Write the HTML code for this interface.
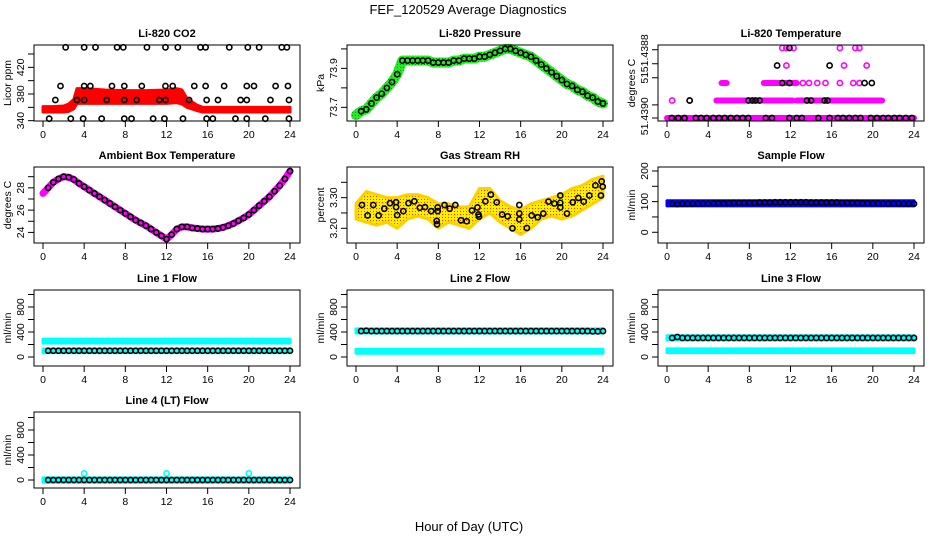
<!DOCTYPE html>
<html><head><meta charset="utf-8"><style>
html,body{margin:0;padding:0;background:#fff;}
svg{display:block;font-family:"Liberation Sans",Arial,sans-serif;}
.tt{font-weight:bold;font-size:11px;}
.tk{font-size:10.5px;}
</style></head><body>
<svg id="chart" width="936" height="540" viewBox="0 0 936 540" xmlns="http://www.w3.org/2000/svg">
<defs>
<pattern id="rhpat" width="3" height="3" patternUnits="userSpaceOnUse"><rect width="3" height="3" fill="#ffee00"/><rect x="1" y="1" width="1" height="1" fill="#ee3300"/></pattern>
<pattern id="grpat" width="3" height="3" patternUnits="userSpaceOnUse"><rect width="3" height="3" fill="#22ee22"/><rect x="1" y="1" width="1" height="1" fill="#119911"/></pattern>
</defs>
<text x="468" y="14" text-anchor="middle" font-size="13">FEF_120529  Average Diagnostics</text>
<text x="469" y="531" text-anchor="middle" font-size="13">Hour of Day (UTC)</text>
</svg>
<script>
// ---------- data ----------
const xTicks = [0,4,8,12,16,20,24];
const halfHours = [0,0.5,1,1.5,2,2.5,3,3.5,4,4.5,5,5.5,6,6.5,7,7.5,8,8.5,9,9.5,10,10.5,11,11.5,12,12.5,13,13.5,14,14.5,15,15.5,16,16.5,17,17.5,18,18.5,19,19.5,20,20.5,21,21.5,22,22.5,23,23.5,24];

// CO2
const co2BandHours = [0,1,2,2.5,3,3.3,4,6,8,10,12,13,13.5,14,15,15.5,16,20,24];
const co2BandLow  = [353,353,353,354,358,366,366,366,366,366,366,367,365,360,355,353,353,353,353];
const co2BandHigh = [361,361,362,365,372,388,388,386,385,385,386,388,386,373,363,360,360,360,360];
const co2OutHours = [2.2,4.0,5.1,7.2,7.8,10.1,11.9,13.1,15.3,15.8,18.1,19.9,21.0,23.2,23.7,
 1.7,4.0,4.6,6.7,7.9,9.6,11.9,12.6,14.7,15.8,17.6,19.8,20.5,22.6,23.8,
 1.2,3.3,4.0,6.2,7.9,9.1,11.3,11.9,14.2,15.9,17.0,19.2,19.8,22.1,23.9,
 0.6,2.7,3.9,5.7,7.9,8.6,10.7,11.8,13.6,15.9,16.5,18.7,19.8,21.6,23.9];
const co2OutValues = [450,450,450,450,450,450,450,450,450,450,450,450,450,450,450,
 392,392,392,392,392,392,392,392,392,392,392,392,392,392,392,
 371,371,371,371,371,371,371,371,371,371,371,371,371,371,371,
 343,343,343,343,343,343,343,343,343,343,343,343,343,343,343];

// Pressure
const pressValues = [73.66,73.68,73.69,73.72,73.75,73.77,73.80,73.83,73.87,73.94,73.94,73.94,73.94,73.94,73.94,73.93,73.93,73.93,73.93,73.94,73.94,73.95,73.95,73.95,73.96,73.96,73.97,73.98,73.99,74.0,74.0,73.99,73.98,73.97,73.96,73.94,73.92,73.90,73.88,73.86,73.84,73.82,73.81,73.79,73.78,73.76,73.75,73.73,73.72];

// Li-820 temperature (level index)
const tempSegStart = [0,4.8,12.6,9.4,5.3];
const tempSegEnd   = [24,12.2,20.9,12.6,5.8];
const tempSegLevel = [0,1,1,2,2];
const tempMagHours  = [0.5,2.2,13.2,13.8,14.6,15.4,16.8,18.1,18.7,11.6,17.2,19.4,11.2,11.6,12.3,16.8,18.3,18.7];
const tempMagLevels = [1,1,2,2,2,2,2,2,2,3,3,3,4,4,4,4,4,4];
const tempBlkHours = [0.46,1.1,1.7,2.8,3.3,3.85,4.5,5.05,5.6,6.2,6.8,7.35,7.9,9.6,10.2,11.9,12.6,13.1,14.7,15.8,16.6,17.1,17.7,18.3,18.8,19.8,20.4,21.0,21.5,22.1,22.6,23.2,23.8,
 2.2,7.9,8.3,8.6,9.0,13.6,14.0,15.3,15.6, 11.2,11.9,19.2,19.9, 10.7,15.8, 11.9];
const tempBlkLevels = [0,0,0,0,0,0,0,0,0,0,0,0,0,0,0,0,0,0,0,0,0,0,0,0,0,0,0,0,0,0,0,0,0,
 1,1,1,1,1,1,1,1,1, 2,2,2,2, 3,3, 4];

// Ambient box temperature
const ambValues = [27.5,28.0,28.5,28.8,29.0,28.95,28.75,28.4,28.1,27.8,27.5,27.2,26.9,26.6,26.3,26.0,25.7,25.4,25.1,24.85,24.6,24.3,24.0,23.7,23.4,23.8,24.3,24.5,24.5,24.4,24.35,24.3,24.3,24.3,24.35,24.45,24.6,24.8,25.05,25.3,25.6,26.0,26.4,26.8,27.2,27.7,28.2,28.8,29.5];

// Gas stream RH
const rhCloudHours = [0,1,2,3,4,5,6,7,8,9,10,11,12,13,14,15,16,17,18,19,20,21,22,23,24];
const rhCloudLow  = [3.23,3.22,3.21,3.22,3.20,3.23,3.24,3.23,3.20,3.22,3.21,3.20,3.23,3.25,3.22,3.20,3.18,3.20,3.23,3.24,3.23,3.24,3.26,3.28,3.30];
const rhCloudHigh = [3.28,3.32,3.31,3.30,3.30,3.31,3.31,3.30,3.28,3.28,3.27,3.27,3.33,3.33,3.29,3.27,3.26,3.28,3.29,3.30,3.31,3.33,3.34,3.36,3.37];
const rhPtHours = [0.58,1.13,1.68,2.2,2.75,3.3,3.9,3.9,4.0,4.6,5.1,5.67,6.2,6.7,7.3,7.84,7.87,7.94,7.94,8.6,9.1,9.65,10.2,10.76,11.27,11.8,11.9,11.95,12.57,13.1,13.67,14.2,14.74,15.2,15.87,15.87,15.87,16.6,17.07,17.66,18.2,18.7,19.27,19.85,19.85,19.85,20.5,21.06,21.6,22.13,22.67,23.26,23.8,23.87,23.97];
const rhPtValues = [3.276,3.242,3.276,3.242,3.264,3.282,3.285,3.269,3.243,3.256,3.282,3.288,3.267,3.269,3.256,3.224,3.213,3.256,3.268,3.276,3.264,3.276,3.226,3.223,3.258,3.268,3.245,3.238,3.288,3.310,3.285,3.245,3.239,3.200,3.276,3.248,3.229,3.201,3.242,3.236,3.248,3.287,3.281,3.307,3.283,3.268,3.248,3.285,3.299,3.287,3.307,3.340,3.307,3.353,3.336];

// Flows (black series every half hour from 0.5)
const sampleValues = [93,93,92,93,93,93,94,94,94,95,95,95,95,96,96,96,96,96,97,97,97,98,98,98,98,98,98,98,97,97,97,97,97,97,96,96,96,96,95,95,95,95,94,94,94,94,93,93,93];
const line1Values = [100,100,100,100,100,100,100,100,100,100,100,100,100,100,100,100,100,100,100,100,100,100,100,100,100,100,100,100,100,100,100,100,100,100,100,100,100,100,100,100,100,100,100,100,100,100,100,100,100];
const line2Values = [415,415,420,415,415,415,415,415,415,415,415,415,415,415,415,415,415,415,415,415,415,415,415,415,415,415,415,415,415,415,415,415,415,415,415,415,415,415,415,415,415,415,415,415,415,415,410,410,415];
const line3Values = [305,305,320,305,305,305,305,305,305,305,305,305,305,305,305,305,305,305,305,305,305,305,305,305,305,305,305,305,305,305,305,305,305,305,305,305,305,305,305,305,305,305,305,305,305,305,305,305,305];
const line4Values = [0,0,0,0,0,0,0,0,0,0,0,0,0,0,0,0,0,0,0,0,0,0,0,0,0,0,0,0,0,0,0,0,0,0,0,0,0,0,0,0,0,0,0,0,0,0,0,0,0];
const flowBandHours = [0,24];
const sampleBandLow = [86,86], sampleBandHigh = [103,103];
const line1UpperLow = [225,225], line1UpperHigh = [287,287];
const line1LowerLow = [70,70], line1LowerHigh = [128,128];
const line2UpperLow = [385,385], line2UpperHigh = [450,450];
const line2LowerLow = [60,60], line2LowerHigh = [125,125];
const line3UpperLow = [275,275], line3UpperHigh = [340,340];
const line3LowerLow = [70,70], line3LowerHigh = [130,130];
const line4LowerLow = [-35,-35], line4LowerHigh = [35,35];
const line4SpikeHours = [4,12,20], line4SpikeValues = [105,105,105];

// ---------- drawing ----------
const NS = 'http://www.w3.org/2000/svg';
const svg = document.getElementById('chart');
const colLeft = [34,347,658], rowTop = [45,167,290,412], boxW = 266, boxH = 76;

function mk(tag, attrs, parent, name) {
  const e = document.createElementNS(NS, tag);
  for (const k in attrs) e.setAttribute(k, attrs[k]);
  
  
  parent.appendChild(e);
  return e;
}

function panel(col, row, ymin, ymax, name) {
  const L = colLeft[col], T = rowTop[row];
  const g = mk('g', {}, svg, name);
  return {L, T, g,
    x: h => L + 9 + h * 247 / 24,
    y: v => T + boxH - (v - ymin) / (ymax - ymin) * boxH};
}

function axes(p, title, ylab, yTicks, yLabels, yLabelTexts) {
  const B = p.T + boxH;
  mk('rect', {x:p.L, y:p.T, width:boxW, height:boxH, fill:'none', stroke:'#000', 'stroke-width':1}, p.g, 'plot-frame');
  const t = mk('text', {x:p.L + boxW/2, y:p.T - 8, 'text-anchor':'middle', class:'tt'}, p.g, 'panel-title');
  t.textContent = title;
  mk('line', {x1:p.x(0), x2:p.x(24), y1:B, y2:B, stroke:'#000'}, p.g, 'x-axis-line');
  xTicks.forEach(h => {
    mk('line', {x1:p.x(h), x2:p.x(h), y1:B, y2:B+6, stroke:'#000'}, p.g, 'x-tick');
    const tx = mk('text', {x:p.x(h), y:B+17, 'text-anchor':'middle', class:'tk'}, p.g, 'x-tick-label');
    tx.textContent = h;
  });
  mk('line', {x1:p.L, x2:p.L, y1:p.y(yTicks[0]), y2:p.y(yTicks[yTicks.length-1]), stroke:'#000'}, p.g, 'y-axis-line');
  yTicks.forEach(v => {
    mk('line', {x1:p.L-6, x2:p.L, y1:p.y(v), y2:p.y(v), stroke:'#000'}, p.g, 'y-tick');
  });
  yLabels.forEach((v, i) => {
    const yy = p.y(v), xx = p.L - 13;
    const ty = mk('text', {x:xx, y:yy, 'text-anchor':'middle', 'dominant-baseline':'central', class:'tk', transform:`rotate(-90 ${xx} ${yy})`}, p.g, 'y-tick-label');
    ty.textContent = yLabelTexts[i];
  });
  const cy = p.T + boxH/2, cx = p.L - 26;
  const yl = mk('text', {x:cx, y:cy, 'text-anchor':'middle', 'dominant-baseline':'central', 'font-size':'10.5', transform:`rotate(-90 ${cx} ${cy})`}, p.g, 'y-axis-title');
  yl.textContent = ylab;
}

function band(p, xs, lo, hi, fill, name) {
  let pts = xs.map((h,i) => p.x(h)+','+p.y(hi[i]));
  pts = pts.concat(xs.map((h,i) => p.x(h)+','+p.y(lo[i])).reverse());
  mk('polygon', {points:pts.join(' '), fill:fill, stroke:fill==='url(#rhpat)'?'#ffd000':fill, 'stroke-width':3, 'stroke-linejoin':'round'}, p.g, name);
}
function thick(p, xs, ys, color, w, name) {
  mk('polyline', {points:xs.map((h,i)=>p.x(h)+','+p.y(ys[i])).join(' '), fill:'none', stroke:color, 'stroke-width':w, 'stroke-linecap':'round', 'stroke-linejoin':'round'}, p.g, name);
}
function circles(p, xs, ys, color, name) {
  xs.forEach((h,i) => {
    mk('circle', {cx:p.x(h), cy:p.y(ys[i]), r:2.6, fill:'none', stroke:color, 'stroke-width':1.6}, p.g, name);
  });
}
const from05 = halfHours.slice(1);

// CO2
let p = panel(0,0,339.5,453.5,'co2-panel');
band(p, co2BandHours, co2BandLow, co2BandHigh, '#ff0000', 'co2-band');
circles(p, co2OutHours, co2OutValues, '#000', 'co2-point');
axes(p, 'Li-820 CO2', 'Licor ppm', [340,360,380,400,420,440], [340,380,420], ['340','380','420']);

// Pressure
p = panel(1,0,73.63,74.02,'pressure-panel');
thick(p, halfHours, pressValues, 'url(#grpat)', 10, 'pressure-band');
circles(p, halfHours.slice(1), pressValues.slice(1), '#000', 'pressure-point');
axes(p, 'Li-820 Pressure', 'kPa', [73.7,73.8,73.9,74.0], [73.7,73.9], ['73.7','73.9']);

// Li-820 temperature
p = panel(2,0,-0.17,4.17,'li820-temp-panel');
tempSegStart.forEach((s,i) => {
  thick(p, [s, tempSegEnd[i]], [tempSegLevel[i], tempSegLevel[i]], '#ff00ff', 6, 'temp-segment');
});
circles(p, tempMagHours, tempMagLevels, '#ff00ff', 'temp-magenta-point');
circles(p, tempBlkHours, tempBlkLevels, '#000', 'temp-black-point');
axes(p, 'Li-820 Temperature', 'degrees C', [0,0.75,2.3,3.1,3.9], [0.1,2.3,3.7], ['51.4390','51','51.4388']);

// Ambient temperature
p = panel(0,1,23.05,29.87,'ambient-temp-panel');
thick(p, halfHours, ambValues, '#ff00ff', 7, 'ambient-line');
circles(p, halfHours.slice(1), ambValues.slice(1), '#000', 'ambient-point');
axes(p, 'Ambient Box Temperature', 'degrees C', [24,25,26,27,28,29], [24,26,28], ['24','26','28']);

// Gas RH
p = panel(1,1,3.152,3.40,'rh-panel');
band(p, rhCloudHours, rhCloudLow, rhCloudHigh, 'url(#rhpat)', 'rh-cloud');
circles(p, rhPtHours, rhPtValues, '#000', 'rh-point');
axes(p, 'Gas Stream RH', 'percent', [3.20,3.25,3.30,3.35], [3.20,3.30], ['3.20','3.30']);

// Sample flow
p = panel(2,1,-35,213,'sample-flow-panel');
band(p, flowBandHours, sampleBandLow, sampleBandHigh, '#0000ff', 'sample-band');
circles(p, from05, sampleValues.slice(1), '#000', 'sample-point');
axes(p, 'Sample Flow', 'ml/min', [0,50,100,150,200], [0,100,200], ['0','100','200']);

const flowTicks = [0,200,400,600,800,1000];
// Line 1
p = panel(0,2,-144,1072,'line1-panel');
band(p, flowBandHours, line1UpperLow, line1UpperHigh, '#00ffff', 'line1-upper-band');
band(p, flowBandHours, line1LowerLow, line1LowerHigh, '#00ffff', 'line1-lower-band');
circles(p, from05, line1Values.slice(1), '#000', 'line1-point');
axes(p, 'Line 1 Flow', 'ml/min', flowTicks, [0,400,800], ['0','400','800']);

// Line 2
p = panel(1,2,-144,1072,'line2-panel');
band(p, flowBandHours, line2UpperLow, line2UpperHigh, '#00ffff', 'line2-upper-band');
band(p, flowBandHours, line2LowerLow, line2LowerHigh, '#00ffff', 'line2-lower-band');
circles(p, from05, line2Values.slice(1), '#000', 'line2-point');
axes(p, 'Line 2 Flow', 'ml/min', flowTicks, [0,400,800], ['0','400','800']);

// Line 3
p = panel(2,2,-144,1072,'line3-panel');
band(p, flowBandHours, line3UpperLow, line3UpperHigh, '#00ffff', 'line3-upper-band');
band(p, flowBandHours, line3LowerLow, line3LowerHigh, '#00ffff', 'line3-lower-band');
circles(p, from05, line3Values.slice(1), '#000', 'line3-point');
axes(p, 'Line 3 Flow', 'ml/min', flowTicks, [0,400,800], ['0','400','800']);

// Line 4
p = panel(0,3,-128,1088,'line4-panel');
band(p, flowBandHours, line4LowerLow, line4LowerHigh, '#00ffff', 'line4-band');
circles(p, line4SpikeHours, line4SpikeValues, '#00ffff', 'line4-spike');
circles(p, from05, line4Values.slice(1), '#000', 'line4-point');
axes(p, 'Line 4 (LT) Flow', 'ml/min', flowTicks, [0,400,800], ['0','400','800']);
</script>
</body></html>
